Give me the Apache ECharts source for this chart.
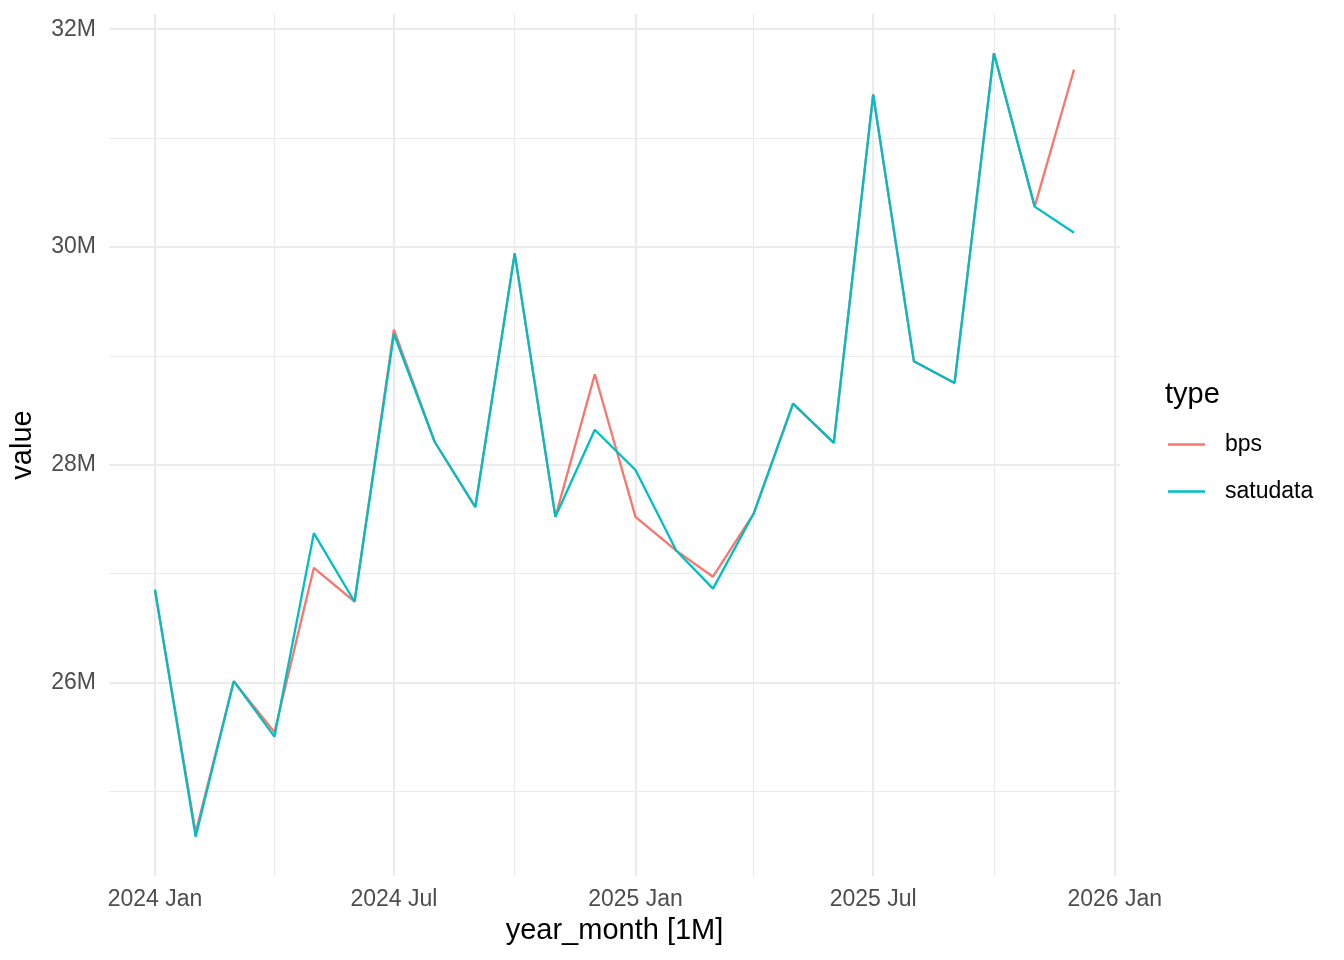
<!DOCTYPE html>
<html style="height: 100%">
<head>
    <meta charset="UTF-8">
    <title>bps vs satudata</title>
    <script src="https://cdn.jsdelivr.net/npm/echarts@6/dist/echarts.min.js"></script>
</head>
<body style="height: 100%; margin: 0; background: #fff">
    <div id="main" style="width: 1344px; height: 960px"></div>
    <script type="text/javascript">
        // monthly data, values in millions
        var months = ['2024-01-01', '2024-02-01', '2024-03-01', '2024-04-01', '2024-05-01', '2024-06-01',
                      '2024-07-01', '2024-08-01', '2024-09-01', '2024-10-01', '2024-11-01', '2024-12-01',
                      '2025-01-01', '2025-02-01', '2025-03-01', '2025-04-01', '2025-05-01', '2025-06-01',
                      '2025-07-01', '2025-08-01', '2025-09-01', '2025-10-01', '2025-11-01', '2025-12-01'];
        var bps = [26.85, 24.62, 26.01, 25.54, 27.05, 26.74, 29.24, 28.21, 27.61, 29.94, 27.52, 28.83,
                   27.52, 27.21, 26.97, 27.55, 28.56, 28.20, 31.40, 28.95, 28.75, 31.78, 30.37, 31.63];
        var satudata = [26.85, 24.58, 26.01, 25.50, 27.37, 26.74, 29.20, 28.21, 27.61, 29.94, 27.52, 28.32,
                        27.95, 27.21, 26.86, 27.55, 28.56, 28.20, 31.40, 28.95, 28.75, 31.78, 30.37, 30.13];

        // tick positions
        var xMajorTicks = ['2024-01-01', '2024-07-01', '2025-01-01', '2025-07-01', '2026-01-01'];
        var xMinorTicks = ['2024-04-01', '2024-10-01', '2025-04-01', '2025-10-01'];
        var yMajorTicks = [26, 28, 30, 32];
        var yMinorTicks = [25, 27, 29, 31];

        var monthNames = ['Jan', 'Feb', 'Mar', 'Apr', 'May', 'Jun', 'Jul', 'Aug', 'Sep', 'Oct', 'Nov', 'Dec'];
        var font = "'Liberation Sans', Arial, Helvetica, sans-serif";
        var gridColor = '#EBEBEB';

        // dates as UTC milliseconds on a plain value axis
        function ms(s) {
            var p = s.split('-');
            return Date.UTC(+p[0], +p[1] - 1, +p[2]);
        }
        function pairs(vals) {
            return months.map(function (m, i) { return [ms(m), vals[i] * 1e6]; });
        }
        function millions(list) {
            return list.map(function (v) { return v * 1e6; });
        }

        var xMin = ms('2023-11-27'), xMax = ms('2026-01-05');
        var yMin = 24.22e6, yMax = 32.14e6;

        var myChart = echarts.init(document.getElementById('main'), null, { renderer: 'canvas' });

        var option = {
            backgroundColor: '#fff',
            animation: false,
            textStyle: { fontFamily: font },
            grid: { left: 107, right: 224, top: 14, bottom: 84, containLabel: false },
            title: {
                text: 'type',
                left: 1160, top: 375,
                textStyle: { fontFamily: font, fontSize: 29, fontWeight: 'normal', color: '#000' }
            },
            legend: {
                orient: 'vertical',
                left: 1163, top: 428,
                icon: 'rect',
                itemWidth: 37, itemHeight: 2.5,
                itemGap: 24,
                data: ['bps', 'satudata'],
                textStyle: { fontFamily: font, fontSize: 23, color: '#000', lineHeight: 23, padding: [0, 0, 0, 15] }
            },
            xAxis: [{
                type: 'value',
                min: xMin, max: xMax,
                name: 'year_month [1M]',
                nameLocation: 'middle',
                nameGap: 40,
                nameTextStyle: { fontFamily: font, fontSize: 29, color: '#000' },
                axisLine: { show: false },
                axisTick: { show: false, customValues: xMajorTicks.map(ms) },
                axisLabel: {
                    customValues: xMajorTicks.map(ms),
                    margin: 12,
                    fontSize: 23, color: '#4D4D4D', fontFamily: font,
                    formatter: function (v) {
                        var d = new Date(v);
                        return d.getUTCFullYear() + ' ' + monthNames[d.getUTCMonth()];
                    }
                },
                splitLine: { show: true, lineStyle: { color: gridColor, width: 2.2 } }
            }, {
                type: 'value',
                min: xMin, max: xMax,
                position: 'bottom',
                axisLine: { show: false },
                axisTick: { show: false, customValues: xMinorTicks.map(ms) },
                axisLabel: { show: false },
                splitLine: { show: true, lineStyle: { color: gridColor, width: 1.1 } }
            }],
            yAxis: [{
                type: 'value',
                min: yMin, max: yMax,
                name: 'value',
                nameLocation: 'middle',
                nameGap: 72,
                nameTextStyle: { fontFamily: font, fontSize: 29, color: '#000' },
                axisLine: { show: false },
                axisTick: { show: false, customValues: millions(yMajorTicks) },
                axisLabel: {
                    customValues: millions(yMajorTicks),
                    margin: 13,
                    padding: [4, 0, 0, 0],
                    fontSize: 23, color: '#4D4D4D', fontFamily: font,
                    formatter: function (v) { return Math.round(v / 1e6) + 'M'; }
                },
                splitLine: { show: true, lineStyle: { color: gridColor, width: 2.2 } }
            }, {
                type: 'value',
                min: yMin, max: yMax,
                position: 'left',
                axisLine: { show: false },
                axisTick: { show: false, customValues: millions(yMinorTicks) },
                axisLabel: { show: false },
                splitLine: { show: true, lineStyle: { color: gridColor, width: 1.1 } }
            }],
            series: [{
                name: 'bps',
                type: 'line',
                data: pairs(bps),
                symbol: 'none',
                color: '#F8766D',
                lineStyle: { width: 2.3, color: '#F8766D' }
            }, {
                name: 'satudata',
                type: 'line',
                data: pairs(satudata),
                symbol: 'none',
                color: '#00BFC4',
                lineStyle: { width: 2.3, color: '#00BFC4' }
            }]
        };

        myChart.setOption(option);
    </script>
</body>
</html>
